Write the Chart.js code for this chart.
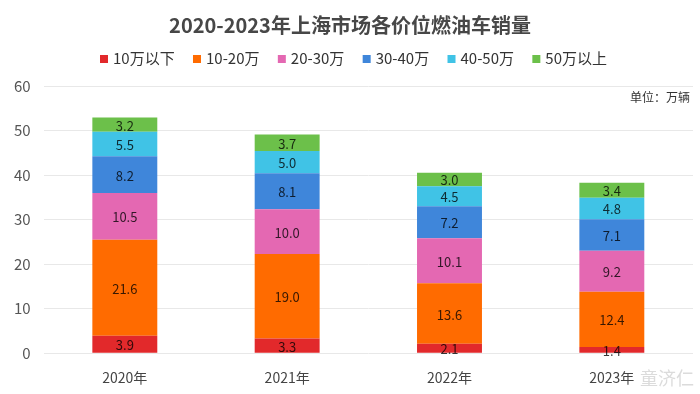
<!DOCTYPE html>
<html>
<head>
<meta charset="utf-8">
<script src="https://cdn.jsdelivr.net/npm/chart.js@4/dist/chart.umd.min.js"></script>
<style>
html,body{margin:0;padding:0;background:#fff;}
#wrap{width:700px;height:394px;position:relative;}
</style>
</head>
<body>
<div id="wrap"><canvas id="c" width="700" height="394"></canvas></div>
<script>
const categories = ['2020年', '2021年', '2022年', '2023年'];
const seriesNames = ['10万以下', '10-20万', '20-30万', '30-40万', '40-50万', '50万以上'];
const below10 = [3.9, 3.3, 2.1, 1.4];
const r10to20 = [21.6, 19.0, 13.6, 12.4];
const r20to30 = [10.5, 10.0, 10.1, 9.2];
const r30to40 = [8.2, 8.1, 7.2, 7.1];
const r40to50 = [5.5, 5.0, 4.5, 4.8];
const above50 = [3.2, 3.7, 3.0, 3.4];
const yTicks = [0, 10, 20, 30, 40, 50, 60];

const seriesValues = [below10, r10to20, r20to30, r30to40, r40to50, above50];
const colors = ['#e2292b', '#ff6b00', '#e468b2', '#3f86da', '#40c3e6', '#6cc04a'];
const FONT = '"Noto Sans CJK SC", "Noto Sans", sans-serif';
const TITLE = '2020-2023年上海市场各价位燃油车销量';

const decorPlugin = {
  id: 'decor',
  afterDatasetsDraw(chart) {
    const ctx = chart.ctx;
    ctx.save();
    ctx.font = '13px ' + FONT;
    ctx.fillStyle = 'rgba(0,0,0,0.78)';
    ctx.textAlign = 'center';
    ctx.textBaseline = 'middle';
    chart.data.datasets.forEach((ds, di) => {
      const meta = chart.getDatasetMeta(di);
      meta.data.forEach((bar, i) => {
        const y = (bar.y + bar.base) / 2;
        ctx.fillText(ds.data[i].toFixed(1), bar.x, y + 1);
      });
    });
    ctx.restore();
  },
  afterDraw(chart) {
    const ctx = chart.ctx;
    ctx.save();
    // title
    ctx.font = 'bold 20px ' + FONT;
    ctx.fillStyle = '#474747';
    ctx.textAlign = 'center';
    ctx.textBaseline = 'middle';
    ctx.fillText(TITLE, 350, 25);
    // legend
    ctx.font = '15px ' + FONT;
    ctx.textAlign = 'left';
    const box = 8, gap = 5, totalW = 507, startX = 100;
    const tw = chart.data.datasets.map(d => ctx.measureText(d.label).width);
    const itemW = tw.map(w => box + gap + w);
    const spacing = (totalW - itemW.reduce((a, b) => a + b, 0)) / (itemW.length - 1);
    let x = startX;
    chart.data.datasets.forEach((d, i) => {
      ctx.fillStyle = d.backgroundColor;
      ctx.fillRect(x, 58 - box / 2 + 1, box, box);
      ctx.fillStyle = '#333';
      ctx.fillText(d.label, x + box + gap, 58);
      x += itemW[i] + spacing;
    });
    // unit
    ctx.font = '12px ' + FONT;
    ctx.fillStyle = '#333';
    ctx.textAlign = 'right';
    ctx.fillText('单位：万辆', 690, 97);
    // watermark
    ctx.globalAlpha = 0.55;
    ctx.font = '18px ' + FONT;
    ctx.fillStyle = '#bdbdbd';
    ctx.textAlign = 'left';
    ctx.fillText('童济仁', 640, 378);
    ctx.restore();
  }
};

new Chart(document.getElementById('c'), {
  type: 'bar',
  data: {
    labels: categories,
    datasets: seriesNames.map((n, i) => ({
      label: n,
      data: seriesValues[i],
      backgroundColor: colors[i],
      borderWidth: 0,
      barPercentage: 0.4,
      categoryPercentage: 1.0
    }))
  },
  options: {
    responsive: false,
    animation: false,
    devicePixelRatio: 1,
    layout: { padding: { left: 1, right: 7, top: 86, bottom: 0 } },
    plugins: {
      title: { display: false },
      legend: { display: false },
      tooltip: { enabled: false }
    },
    scales: {
      x: {
        stacked: true,
        grid: { display: false },
        border: { display: false },
        ticks: { color: '#444', font: { size: 14, family: FONT }, padding: 8 }
      },
      y: {
        stacked: true,
        min: 0,
        max: 60,
        afterBuildTicks(axis) { axis.ticks = yTicks.map(v => ({ value: v })); },
        grid: { color: '#e8e8e8', drawTicks: false },
        border: { display: false },
        ticks: { color: '#555', font: { size: 15, family: FONT }, padding: 13 }
      }
    }
  },
  plugins: [decorPlugin]
});
</script>
</body>
</html>
